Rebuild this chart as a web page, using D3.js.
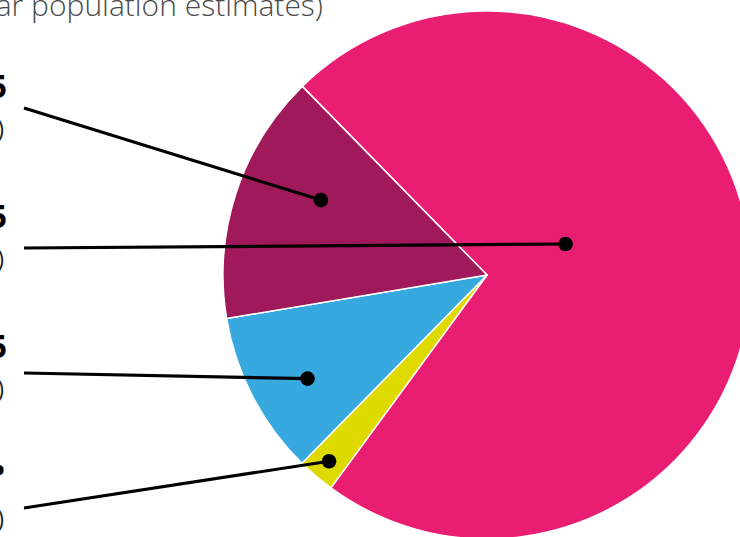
<!DOCTYPE html>
<html>
<head>
<meta charset="utf-8">
<script src="https://cdn.jsdelivr.net/npm/d3@7/dist/d3.min.js"></script>
<style>
  html, body { margin: 0; padding: 0; background: #fff; overflow: hidden; }
  svg { display: block; }
</style>
</head>
<body>
<svg id="chart" width="740" height="537"></svg>
<script>
// ---- data ----
const titleText = "Population by ethnic group (2021 mid-year population estimates)";
const categories = ["White", "Mixed", "Black", "Asian"];          // pie order (clockwise)
const values = [72.4, 2.3, 10.0, 15.3];                            // percent share
const countLabels = ["4,186,425", "132,985", "578,215", "884,665"];
const labelOrder = ["Asian", "White", "Black", "Mixed"];           // top-to-bottom label order

// ---- layout (not data) ----
const cx = 487, cy = 275, R = 264;
const startDeg = -44.4;
const dotAngleFrac = { White: 0.433, Mixed: 0.49, Black: 0.43, Asian: 0.613 };
const dotRadiusFrac = { White: 0.32, Mixed: 0.925, Black: 0.785, Asian: 0.69 };
const lineOffset = { Asian: 10, White: 20, Black: 15, Mixed: 20 };
const colors = { White: "#E91E73", Mixed: "#DEDA00", Black: "#38A9DF", Asian: "#A0195A" };

const svg = d3.select("#chart");

// title (cropped at left and top)
svg.append("text")
  .attr("x", 323).attr("y", 16)
  .attr("text-anchor", "end")
  .attr("font-family", "'Open Sans', 'Noto Sans', sans-serif")
  .attr("font-weight", 300)
  .attr("font-size", 30)
  .attr("fill", "#4a4a4a")
  .text(titleText);

const pie = d3.pie().sort(null).value(d => d.value)
  .startAngle(startDeg * Math.PI / 180)
  .endAngle(startDeg * Math.PI / 180 + 2 * Math.PI);
const rows = categories.map((c, i) => ({ cat: c, value: values[i], count: countLabels[i] }));
const arcs = pie(rows);
const arc = d3.arc().innerRadius(0).outerRadius(R);

const g = svg.append("g").attr("transform", `translate(${cx},${cy})`);
g.selectAll("path").data(arcs).join("path")
  .attr("d", arc)
  .attr("fill", d => colors[d.data.cat])
  .attr("stroke", "#fff")
  .attr("stroke-width", 1.5)
  .attr("stroke-linejoin", "round");

// label positions
const yLabel = d3.scalePoint().domain(labelOrder).range([98, 488]);
const byCat = {};
arcs.forEach(a => byCat[a.data.cat] = a);

labelOrder.forEach((cat) => {
  const a = byCat[cat];
  const ang = a.startAngle + dotAngleFrac[cat] * (a.endAngle - a.startAngle);
  const r = dotRadiusFrac[cat] * R;
  const dx = cx + r * Math.sin(ang);
  const dy = cy - r * Math.cos(ang);
  const ly = yLabel(cat);
  svg.append("line")
    .attr("x1", 24).attr("y1", ly + lineOffset[cat])
    .attr("x2", dx).attr("y2", dy)
    .attr("stroke", "#000").attr("stroke-width", 3.2);
  svg.append("circle").attr("cx", dx).attr("cy", dy).attr("r", 7.3).attr("fill", "#000");

  const isLast = cat === "Mixed";
  svg.append("text")
    .attr("x", isLast ? 5 : 7).attr("y", isLast ? ly - 6 : ly)
    .attr("text-anchor", "end")
    .attr("font-family", "'Open Sans', 'Noto Sans', sans-serif")
    .attr("font-weight", 700)
    .attr("font-size", 32)
    .attr("fill", "#000")
    .text(cat + ": " + a.data.count + (isLast ? " •" : ""));
  svg.append("text")
    .attr("x", 4).attr("y", ly + 39)
    .attr("text-anchor", "end")
    .attr("font-family", "'Open Sans', 'Noto Sans', sans-serif")
    .attr("font-weight", 400)
    .attr("font-size", 23)
    .attr("fill", "#222")
    .text("(" + d3.format(".1f")(a.data.value) + "%)");
});
</script>
</body>
</html>
